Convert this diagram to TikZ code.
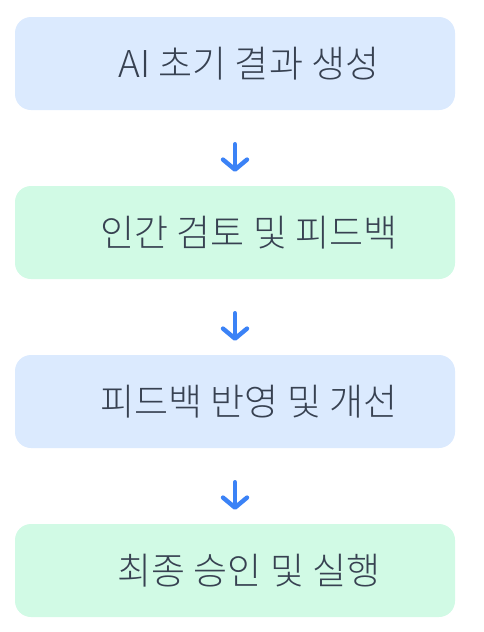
\documentclass[tikz,border=0pt]{standalone}
\usepackage{fontspec}
\newfontfamily\krfont{Noto Sans CJK KR Light}
\usepackage{tikz}
\usetikzlibrary{positioning,arrows.meta}
\definecolor{stageblue}{HTML}{DBEAFE}
\definecolor{stagegreen}{HTML}{D1FAE5}
\definecolor{flowblue}{HTML}{3B82F6}
\definecolor{inkgray}{HTML}{374151}

\begin{document}
\begin{tikzpicture}[x=1pt,y=-1pt,
  stage/.style={draw=none,rounded corners=16pt,minimum width=440pt,minimum height=93pt,inner sep=0pt},
  stagetext/.style={font=\krfont\fontsize{37}{44}\selectfont,text=inkgray,inner sep=0pt},
  flow/.style={-{Straight Barb[length=10pt,width=24pt,round]},line width=4.4pt,line cap=round,flowblue,shorten <=34pt,shorten >=14pt}]
\useasboundingbox (0,0) rectangle (484,632);
\node[stage,fill=stageblue] (s1) at (235,63.5) {};
\node[stagetext] (t1) at (249,64) {AI 초기 결과 생성};
\node[stage,fill=stagegreen] (s2) at (235,232.5) {};
\node[stagetext] (t2) at (249,233) {인간 검토 및 피드백};
\node[stage,fill=stageblue] (s3) at (235,401.5) {};
\node[stagetext] (t3) at (249,402) {피드백 반영 및 개선};
\node[stage,fill=stagegreen] (s4) at (235,570.5) {};
\node[stagetext] (t4) at (249,571) {최종 승인 및 실행};
%arrows
\draw[flow] (s1.south) -- (s2.north);
\draw[flow] (s2.south) -- (s3.north);
\draw[flow] (s3.south) -- (s4.north);
\end{tikzpicture}
\end{document}
